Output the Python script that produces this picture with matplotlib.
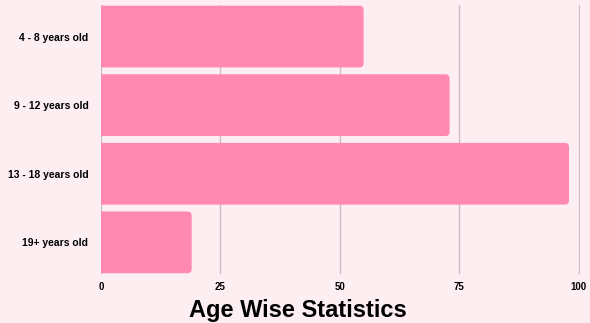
import matplotlib
matplotlib.use("Agg")
import matplotlib.pyplot as plt
from matplotlib.patches import FancyBboxPatch

categories = ["4 - 8 years old", "9 - 12 years old", "13 - 18 years old", "19+ years old"]
values = [55, 73, 98, 19]
xticks = [0, 25, 50, 75, 100]

bg = "#fdeef2"
bar_color = "#ff89b0"

fig = plt.figure(figsize=(5.9, 3.23), dpi=100, facecolor=bg)
ax = fig.add_axes([0.171, 0.152, 0.812, 0.8325], facecolor=bg)
ax.set_axisbelow(True)

ypos = list(range(len(categories)))
h = 0.9
ax.set_ylim(3.46, -0.46)
ax.set_xlim(0, 100.3)

# rounded right corners (~4px); left corners pushed outside the axes and clipped
rx = 0.85
aspect = 0.06 / rx
ext = 3
for y, v in zip(ypos, values):
    p = FancyBboxPatch((-ext, y - h / 2), v + ext, h,
                       boxstyle=f"round,pad=0,rounding_size={rx}",
                       mutation_aspect=aspect, facecolor=bar_color,
                       edgecolor="none", zorder=3)
    ax.add_patch(p)

ax.set_xticks(xticks)
ax.set_xticklabels([str(t) for t in xticks], fontsize=7, fontweight="bold", family="Liberation Sans")
ax.set_yticks(ypos)
ax.set_yticklabels(categories, fontsize=7.5, fontweight="bold", family="Liberation Sans")
ax.tick_params(length=0, pad=9)
ax.tick_params(axis="x", pad=6)
ax.grid(axis="x", color="#cdbfc4", linewidth=1)
for s in ax.spines.values():
    s.set_visible(False)

fig.text(0.505, 0.003, "Age Wise Statistics", ha="center", va="bottom",
         fontsize=17, fontweight="bold", family="Liberation Sans")

fig.savefig("out.png", dpi=100, facecolor=bg)
